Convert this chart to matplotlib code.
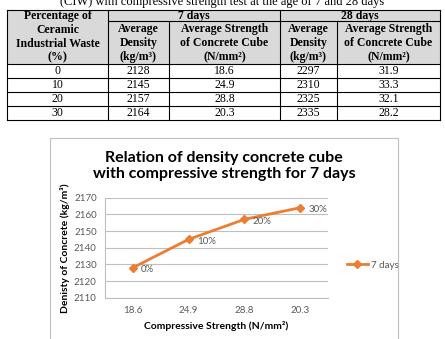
import matplotlib.pyplot as plt
from matplotlib.patches import Rectangle
from matplotlib.lines import Line2D

# table data
ciw = ["0", "10", "20", "30"]
density_7 = [2128, 2145, 2157, 2164]
strength_7 = [18.6, 24.9, 28.8, 20.3]
density_28 = [2297, 2310, 2325, 2335]
strength_28 = [31.9, 33.3, 32.1, 28.2]
pct_labels = ["0%", "10%", "20%", "30%"]

W, H = 445, 339
fig = plt.figure(figsize=(W / 100, H / 100), dpi=100)

def box(x0, y0, x1, y1):
    # pixel box (top-left origin) -> figure fraction rect
    return [x0 / W, 1 - y1 / H, (x1 - x0) / W, (y1 - y0) / H]

# ---------- table ----------
tab = fig.add_axes(box(0, 0, W, 125))
tab.set_xlim(0, W)
tab.set_ylim(125, 0)
tab.axis("off")

serif = "Liberation Serif"
cols = [7, 108, 169, 280, 337, 440]
rows = [64, 78, 92, 106, 120]
top, mid = 10, 21

# caption is cut by the top edge in the source picture
tab.text(W / 2, 2, "(CIW) with compressive strength test at the age of 7 and 28 days",
         ha="center", va="center", fontsize=9, family=serif)

tab.add_patch(Rectangle((cols[0], top), cols[-1] - cols[0], rows[0] - top,
                        facecolor="#d9d9d9", edgecolor="none"))
lw = 0.8
tab.plot([cols[0], cols[-1]], [top, top], color="black", lw=lw)
tab.plot([cols[1], cols[-1]], [mid, mid], color="black", lw=lw)
for y in rows:
    tab.plot([cols[0], cols[-1]], [y, y], color="black", lw=lw)
for i, x in enumerate(cols):
    if i in (2, 4):
        tab.plot([x, x], [mid, rows[-1]], color="black", lw=lw)
    else:
        tab.plot([x, x], [top, rows[-1]], color="black", lw=lw)

hkw = dict(ha="center", va="center", fontsize=8.5, family=serif, fontweight="bold",
           linespacing=1.2)
tab.text((cols[0] + cols[1]) / 2, (top + rows[0]) / 2,
         "Percentage of\nCeramic\nIndustrial Waste\n(%)", **hkw)
tab.text((cols[1] + cols[3]) / 2, (top + mid) / 2, "7 days", **hkw)
tab.text((cols[3] + cols[5]) / 2, (top + mid) / 2, "28 days", **hkw)
sub = ["Average\nDensity\n(kg/m³)", "Average Strength\nof Concrete Cube\n(N/mm²)"] * 2
for i, s in enumerate(sub):
    tab.text((cols[i + 1] + cols[i + 2]) / 2, (mid + rows[0]) / 2 + 0.5, s, **hkw)

table_cols = [ciw, density_7, strength_7, density_28, strength_28]
for c, vals in enumerate(table_cols):
    for r, v in enumerate(vals):
        tab.text((cols[c] + cols[c + 1]) / 2, (rows[r] + rows[r + 1]) / 2, str(v),
                 ha="center", va="center", fontsize=8.5, family=serif)

# ---------- chart ----------
frame = fig.add_axes(box(0, 0, W, H), zorder=-1)
frame.set_xlim(0, W)
frame.set_ylim(H, 0)
frame.axis("off")
frame.add_patch(Rectangle((50, 137.7), 348, 220, facecolor="white",
                          edgecolor="#bfbfbf", lw=0.8))

sans = "Lato"
frame.text(224, 166, "Relation of density concrete cube\nwith compressive strength for 7 days",
           ha="center", va="center", fontsize=11.5, fontweight="bold", family=sans,
           linespacing=1.25)

ax = fig.add_axes(box(105, 197.7, 328, 297.7))
orange = "#ed7d31"
xs = list(range(len(strength_7)))
ax.plot(xs, density_7, color=orange, lw=2, marker="D", markersize=4)
for x, y, lab in zip(xs, density_7, pct_labels):
    ax.annotate(lab, (x, y), xytext=(6, -1.5), textcoords="offset points",
                ha="left", va="center", fontsize=7, color="#595959", family=sans)
ax.set_xlim(-0.5, len(xs) - 0.5)
ax.set_ylim(2110, 2170)
ax.set_yticks(range(2110, 2171, 10))
ax.set_xticks(xs)
ax.set_xticklabels([str(s) for s in strength_7])
ax.grid(axis="y", color="#bfbfbf", lw=0.8)
ax.set_axisbelow(True)
for s in ["top", "right"]:
    ax.spines[s].set_visible(False)
for s in ["left", "bottom"]:
    ax.spines[s].set_color("#bfbfbf")
ax.tick_params(length=0, labelsize=7, colors="#595959", pad=6)
for t in ax.get_xticklabels() + ax.get_yticklabels():
    t.set_family(sans)
ax.set_xlabel("Compressive Strength (N/mm²)", fontsize=7.5, fontweight="bold",
              family=sans, labelpad=4)
ax.set_ylabel("Denisty of Concrete (kg/m³)", fontsize=7.5, fontweight="bold",
              family=sans, labelpad=3)

handle = Line2D([], [], color=orange, lw=2, marker="D", markersize=4)
fig.legend([handle], ["7 days"], loc="center left",
           bbox_to_anchor=(338 / W, 1 - 265 / H), frameon=False,
           prop={"family": sans, "size": 7}, handlelength=2.2, handletextpad=0.3,
           labelcolor="#595959")

fig.savefig("out.png", dpi=100)
